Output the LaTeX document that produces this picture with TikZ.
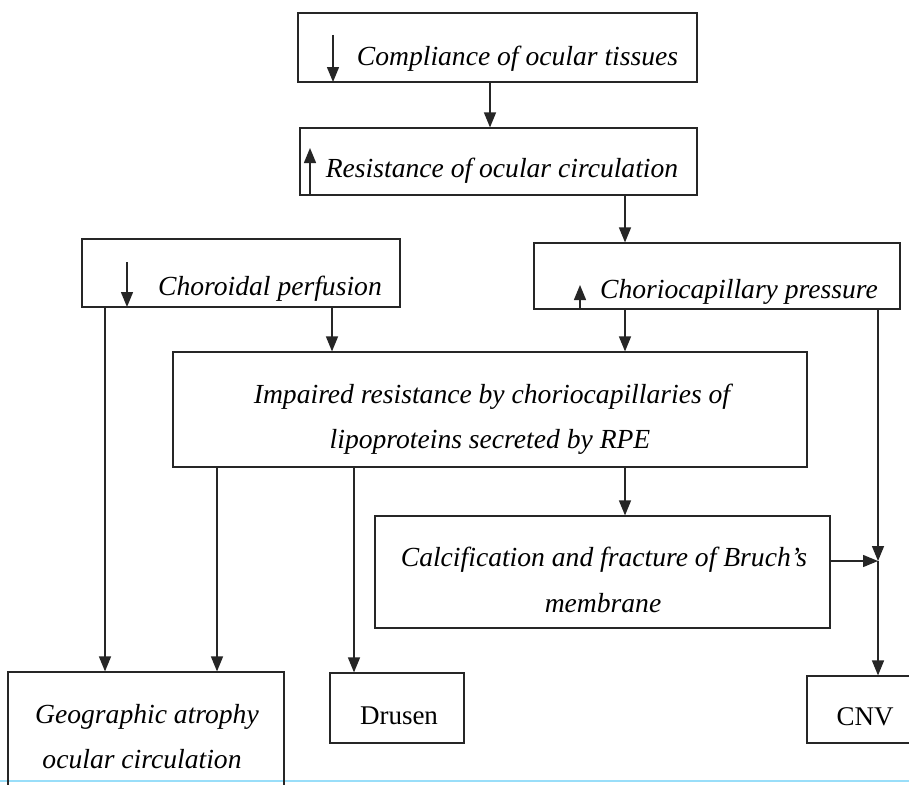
\documentclass[tikz,border=0pt]{standalone}
\usepackage{fontspec}
\setmainfont{Liberation Serif}
\usetikzlibrary{arrows.meta}

\begin{document}
\begin{tikzpicture}[x=1pt,y=-1pt,
	box/.style={draw=black!85,line width=1.2pt,inner sep=0pt},
	lbl/.style={anchor=base,inner sep=0pt,font=\fontsize{27.6}{32}\selectfont\itshape},
	plain/.style={anchor=base,inner sep=0pt,font=\fontsize{27}{32}\selectfont},
	arr/.style={draw=black!85,line width=1.4pt,-{Triangle[length=15pt,width=12pt]}}]
				\clip (0,0) rectangle (909,784);
				\fill[white] (0,0) rectangle (909,784);
				\draw[cyan!40,line width=2pt] (0,781) -- (909,781);
				\node[box,minimum width=399pt,minimum height=69pt] (comp) at (497.5,47.5) {};
				\node[box,minimum width=397pt,minimum height=67pt] (resist) at (498.5,161.5) {};
				\node[box,minimum width=318pt,minimum height=68pt] (chor) at (241,273) {};
				\node[box,minimum width=366pt,minimum height=66pt] (ccp) at (717,276) {};
				\node[box,minimum width=634pt,minimum height=115pt] (imp) at (490,409.5) {};
				\node[box,minimum width=455pt,minimum height=112pt] (calc) at (602.5,572) {};
				\node[box,minimum width=276pt,minimum height=158pt] (geo) at (146,751) {};
				\node[box,minimum width=134pt,minimum height=70pt] (drusen) at (397,708) {};
				\node[box,minimum width=133pt,minimum height=67pt] (cnv) at (873.5,709.5) {};
				\node[lbl] (compt) at (517.5,65) {Compliance of ocular tissues};
				\node[lbl] (resistt) at (502,177) {Resistance of ocular circulation};
				\node[lbl] (chort) at (270,295) {Choroidal perfusion};
				\node[lbl] (ccpt) at (739,298) {Choriocapillary pressure};
				\node[lbl] (impt) at (492,403) {Impaired resistance by choriocapillaries of};
				\node[lbl] (impu) at (490,448) {lipoproteins secreted by RPE};
				\node[lbl] (calct) at (604,566) {Calcification and fracture of Bruch’s};
				\node[lbl] (calcu) at (603,612) {membrane};
				\node[lbl] (geot) at (147,723) {Geographic atrophy};
				\node[lbl] (geou) at (142,768) {ocular circulation};
				\node[plain] (drusent) at (399,724) {Drusen};
				\node[plain] (cnvt) at (865,725) {CNV};
				\draw[arr] (333,35) -- (333,82);
				\draw[arr] (310,195) -- (310,148);
				\draw[arr] (127,262) -- (127,307);
				\draw[arr] (580,309) -- (580,285);
				\coordinate (xa) at (105,0);
				\coordinate (xb) at (217,0);
				\coordinate (xc) at (332,0);
				\coordinate (xd) at (354,0);
				\coordinate (xe) at (490,0);
				\coordinate (xf) at (625,0);
				\coordinate (jn) at (878,561);
				\draw[arr] (comp.south -| xe) -- (resist.north -| xe);
				\draw[arr] (resist.south -| xf) -- (ccp.north -| xf);
				\draw[arr] (chor.south -| xc) -- (imp.north -| xc);
				\draw[arr] (ccp.south -| xf) -- (imp.north -| xf);
				\draw[arr] (chor.south -| xa) -- (geo.north -| xa);
				\draw[arr] (imp.south -| xb) -- (geo.north -| xb);
				\draw[arr] (imp.south -| xd) -- (drusen.north -| xd);
				\draw[arr] (imp.south -| xf) -- (calc.north -| xf);
				\draw[arr] (ccp.south -| jn) -- (jn);
				\draw[arr] (calc.east |- jn) -- (jn);
				\draw[arr] (jn) -- (cnv.north -| jn);
			\end{tikzpicture}
\end{document}
